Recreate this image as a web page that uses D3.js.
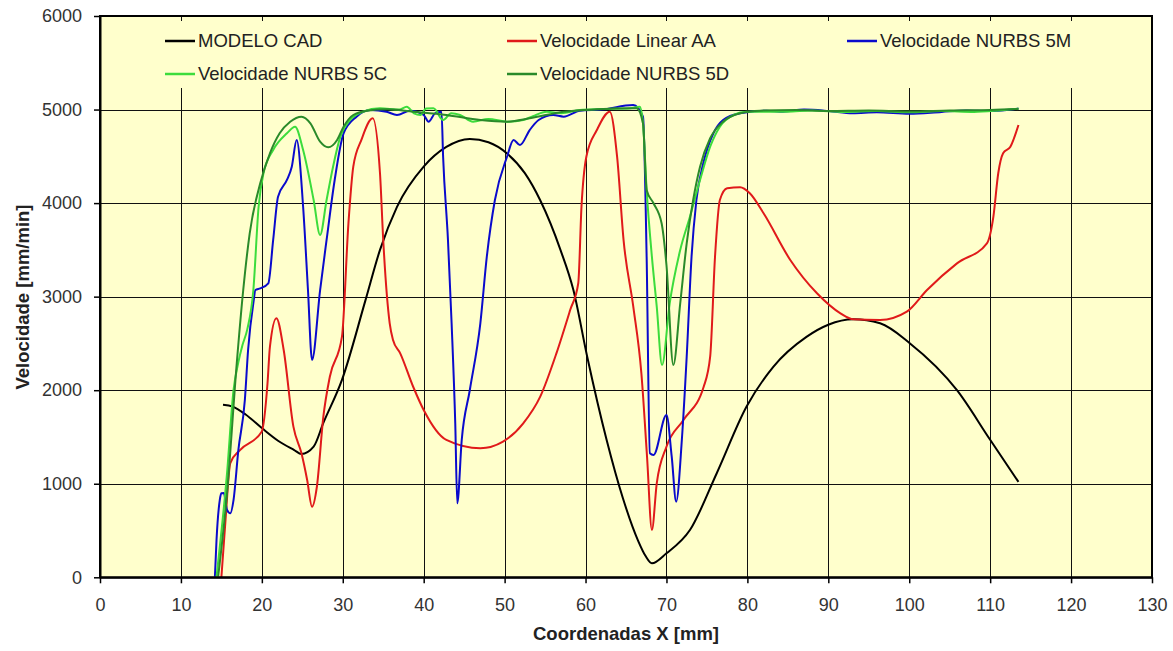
<!DOCTYPE html>
<html>
<head>
<meta charset="utf-8">
<script src="https://cdn.jsdelivr.net/npm/d3@7"></script>
<style>
  html, body { margin: 0; padding: 0; background: #ffffff; }
  svg { display: block; font-family: "Liberation Sans", Arial, sans-serif; }
</style>
</head>
<body>
<svg id="chart" width="1173" height="651"></svg>
<script>
// ---------------- DATA ----------------
const xTicks = [0, 10, 20, 30, 40, 50, 60, 70, 80, 90, 100, 110, 120, 130];
const yTicks = [0, 1000, 2000, 3000, 4000, 5000, 6000];
const seriesNames = ["MODELO CAD", "Velocidade Linear AA", "Velocidade NURBS 5M", "Velocidade NURBS 5C", "Velocidade NURBS 5D"];
const seriesColors = ["#000000", "#e01a1a", "#0a0acc", "#3cdc3c", "#2a8a2a"];

const modeloCAD = [[15.2,1845],[16.4,1825],[18.0,1740],[20.0,1595],[22.0,1460],[24.0,1360],[24.9,1318],[26.4,1396],[27.6,1650],[29.9,2110],[32.8,2960],[34.6,3500],[36.7,3960],[40.0,4390],[42.8,4600],[45.7,4685],[48.0,4650],[50.3,4530],[52.5,4320],[54.4,4030],[56.9,3500],[58.5,3070],[60.2,2360],[62.6,1470],[64.6,850],[66.5,390],[67.4,230],[68.2,150],[70.0,257],[72.9,505],[76.2,1110],[79.9,1825],[83.2,2250],[87.3,2570],[90.0,2700],[93.1,2758],[96.4,2715],[100.1,2500],[105.9,2000],[110.0,1470],[113.5,1020]];

const linearAA = [[15.0,0],[15.5,600],[16.1,1220],[17.3,1360],[19.98,1556],[20.7,2074],[21.0,2465],[21.8,2770],[22.7,2430],[23.9,1610],[24.9,1325],[25.6,1040],[26.2,755],[26.8,968],[27.6,1717],[28.4,2144],[29.9,2572],[30.7,3784],[31.3,4389],[32.3,4675],[33.7,4906],[34.6,4319],[35.0,3605],[35.8,2715],[36.2,2540],[37.1,2394],[38.7,2037],[40.0,1788],[42.8,1468],[47.0,1379],[49.8,1450],[52.3,1646],[54.4,1931],[56.4,2394],[58.1,2857],[59.1,3143],[59.5,3962],[60.1,4496],[61.4,4781],[63.0,4977],[63.9,4496],[64.7,3605],[65.9,2893],[66.9,2181],[67.6,1289],[68.2,506],[68.8,1005],[70.0,1396],[72.1,1681],[74.6,2037],[75.4,2358],[76.0,3427],[76.6,4033],[77.5,4158],[79.1,4169],[80.3,4105],[82.0,3891],[85.3,3392],[88.6,3036],[91.5,2822],[93.1,2758],[96.4,2750],[99.7,2839],[102.2,3071],[105.9,3356],[109.6,3570],[110.4,3855],[111.0,4319],[111.6,4532],[112.5,4603],[113.5,4835]];

const nurbs5M = [[14.2,6],[14.4,400],[14.8,826],[15.0,898],[15.3,901],[15.7,719],[16.1,684],[16.5,826],[17.1,1361],[17.9,1895],[18.3,2430],[19.0,2964],[19.2,3071],[19.8,3089],[20.8,3143],[21.4,3606],[22.0,4068],[23.1,4247],[23.7,4389],[24.3,4675],[25.1,3961],[25.7,3071],[26.2,2323],[27.2,3071],[28.0,3606],[29.0,4247],[30.1,4746],[31.7,4924],[33.4,4995],[35.4,4977],[36.7,4942],[38.3,4988],[40.0,4942],[40.6,4870],[41.4,4960],[42.2,4977],[42.4,4496],[43.0,3606],[43.45,2715],[43.9,1646],[44.15,791],[44.7,1468],[45.7,2002],[47.0,2715],[47.8,3427],[48.8,4033],[50.3,4496],[51.1,4675],[51.9,4621],[53.1,4781],[54.2,4888],[56.0,4942],[57.3,4924],[59.3,4988],[62.0,5000],[65.9,5048],[67.1,4924],[67.55,3427],[67.95,1326],[68.4,1307],[70.0,1735],[70.65,1289],[71.2,808],[71.9,1468],[72.5,2358],[73.1,3427],[73.7,4033],[74.55,4425],[75.8,4746],[77.0,4888],[79.1,4960],[82.4,4988],[84.4,4977],[87,5000],[90,4985],[93,4960],[96,4970],[100,4955],[104,4975],[107,4990],[110,4985],[113.5,5010]];

const nurbs5C = [[14.4,6],[15.7,1115],[16.5,2002],[17.1,2300],[17.6,2480],[18.2,2650],[18.95,3071],[19.6,3961],[20.2,4319],[21.4,4568],[23.1,4746],[24.1,4817],[25.1,4568],[26.4,4033],[27.2,3659],[28.0,4033],[28.8,4389],[29.7,4710],[30.9,4888],[32.5,4977],[34.6,5013],[37.0,5000],[37.9,5030],[38.8,4960],[39.6,4942],[40.3,5010],[41.2,5013],[42.4,4888],[43.4,4960],[44.5,4942],[46.1,4870],[48.0,4900],[50.3,4870],[52.3,4888],[53.5,4930],[55.2,4977],[57,4960],[59.3,4995],[62,5005],[65.5,5013],[66.7,5030],[67.1,4853],[67.55,4140],[68.2,3427],[68.8,2893],[69.45,2269],[70.4,2929],[71.7,3499],[72.9,3855],[74.15,4247],[75.4,4603],[76.6,4817],[78.3,4942],[79.9,4977],[84.9,4977],[88,4990],[92,4975],[96,4985],[100,4970],[104,4985],[108,4975],[111,4990],[113.5,5010]];

const nurbs5D = [[14.6,6],[15.7,898],[16.9,2288],[17.7,3071],[18.5,3677],[19.8,4212],[21.0,4532],[22.2,4746],[23.5,4870],[24.9,4924],[26.0,4853],[27.2,4656],[28.2,4596],[29.3,4675],[30.1,4817],[31.3,4942],[33.0,4988],[35.4,5003],[38.7,4977],[42.8,4942],[47.0,4888],[50.3,4870],[53.1,4906],[57.3,4977],[61.4,5003],[66.3,5013],[67.1,4853],[67.55,4140],[68.4,3998],[69.4,3784],[70.0,3338],[70.85,2269],[71.7,2929],[72.5,3570],[73.3,4033],[74.15,4389],[75.4,4693],[77.0,4870],[79.1,4960],[81.6,4988],[86,4995],[90,4985],[95,4990],[100,4980],[105,4990],[110,4995],[113.5,5005]];

const allSeries = [modeloCAD, linearAA, nurbs5M, nurbs5C, nurbs5D];

// ---------------- LAYOUT ----------------
const svg = d3.select("#chart");
const L = 100, R = 1152, T = 16, B = 577.3;
const bg = "#ffffcc";

const x = d3.scaleLinear().domain([0, 130]).range([L, R]);
const y = d3.scaleLinear().domain([0, 6000]).range([B, T]);

// plot background
svg.append("rect").attr("x", L).attr("y", T).attr("width", R - L).attr("height", B - T).attr("fill", bg);

// grid lines
const grid = svg.append("g").attr("stroke", "#111").attr("stroke-width", 1).attr("shape-rendering", "crispEdges");
grid.selectAll(".gx").data(xTicks.slice(1, -1)).enter().append("line")
  .attr("x1", d => Math.round(x(d)) + 0.5).attr("x2", d => Math.round(x(d)) + 0.5)
  .attr("y1", T).attr("y2", B);
grid.selectAll(".gy").data(yTicks.slice(1, -1)).enter().append("line")
  .attr("y1", d => Math.round(y(d)) + 0.5).attr("y2", d => Math.round(y(d)) + 0.5)
  .attr("x1", L).attr("x2", R);

// legend background box (covers grid)
svg.append("rect").attr("x", L + 3).attr("y", 21).attr("width", R - L - 6).attr("height", 67).attr("fill", bg);

// lines
const line = d3.line().x(d => x(d[0])).y(d => y(d[1])).curve(d3.curveMonotoneX);
svg.append("g").selectAll("path").data(allSeries).enter().append("path")
  .attr("d", d => line(d))
  .attr("fill", "none")
  .attr("stroke", (d, i) => seriesColors[i])
  .attr("stroke-width", 2)
  .attr("stroke-linejoin", "round");

// border
svg.append("rect").attr("x", L).attr("y", T).attr("width", R - L).attr("height", B - T)
  .attr("fill", "none").attr("stroke", "#000").attr("stroke-width", 2);

// axes
const xAxis = d3.axisBottom(x).tickValues(xTicks).tickFormat(d3.format("d")).tickSize(6).tickSizeOuter(0).tickPadding(15);
const gx = svg.append("g").attr("transform", `translate(0,${B})`).call(xAxis);
gx.select(".domain").attr("stroke", "#000").attr("stroke-width", 2);
gx.selectAll(".tick line").attr("stroke", "#000").attr("stroke-width", 1.5);
gx.selectAll(".tick text").attr("font-size", 18).attr("fill", "#333")
  .attr("font-family", "'Liberation Sans', Arial, sans-serif");

const yAxis = d3.axisLeft(y).tickValues(yTicks).tickFormat(d3.format("d")).tickSize(6).tickSizeOuter(0).tickPadding(12);
const gy = svg.append("g").attr("transform", `translate(${L},0)`).call(yAxis);
gy.select(".domain").attr("stroke", "#000").attr("stroke-width", 2);
gy.selectAll(".tick line").attr("stroke", "#000").attr("stroke-width", 1.5);
gy.selectAll(".tick text").attr("font-size", 18).attr("fill", "#333")
  .attr("font-family", "'Liberation Sans', Arial, sans-serif");

// axis titles
svg.append("text").attr("x", 626).attr("y", 640).attr("text-anchor", "middle")
  .attr("font-size", 18.5).attr("font-weight", "bold").attr("fill", "#222")
  .text("Coordenadas X [mm]");
svg.append("text").attr("transform", "translate(29,297) rotate(-90)").attr("text-anchor", "middle")
  .attr("font-size", 18.5).attr("font-weight", "bold").attr("fill", "#222")
  .text("Velocidade [mm/min]");

// legend
const legendPos = [[165, 41], [507, 41], [847, 41], [165, 74], [507, 74]];
const lg = svg.append("g").selectAll("g").data(seriesNames).enter().append("g")
  .attr("transform", (d, i) => `translate(${legendPos[i][0]},${legendPos[i][1]})`);
lg.append("line").attr("x1", 0).attr("x2", 30).attr("y1", 0).attr("y2", 0)
  .attr("stroke", (d, i) => seriesColors[i]).attr("stroke-width", 2.5);
lg.append("text").attr("x", 33).attr("y", 0).attr("dy", "0.35em")
  .attr("font-size", 18.5).attr("fill", "#222").text(d => d);
</script>
</body>
</html>
